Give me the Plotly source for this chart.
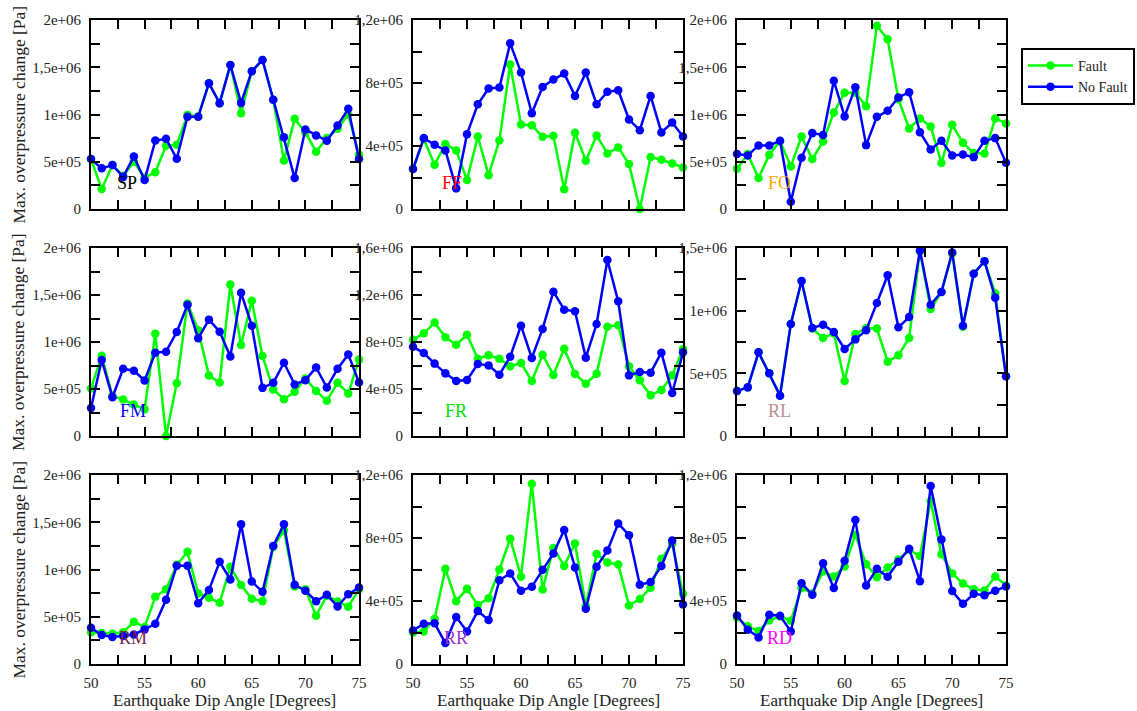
import plotly.graph_objects as go

# Earthquake dip angle (degrees)
dip = list(range(50, 76))

# Maximum overpressure change [Pa] per fault type, with and without the fault
sp_fault = [0.53e6, 0.211e6, 0.465e6, 0.35e6, 0.5e6, 0.33e6, 0.39e6, 0.67e6, 0.68e6, 0.996e6, 0.98e6, 1.33e6, 1.12e6,
            1.525e6, 1.014e6, 1.458e6, 1.577e6, 1.155e6, 0.514e6, 0.954e6, 0.81e6, 0.606e6, 0.75e6, 0.849e6, 1.0e6, 0.574e6]
sp_nofault = [0.528e6, 0.43e6, 0.465e6, 0.34e6, 0.556e6, 0.306e6, 0.725e6, 0.743e6, 0.532e6, 0.975e6, 0.975e6, 1.331e6, 1.12e6,
              1.525e6, 1.123e6, 1.458e6, 1.577e6, 1.155e6, 0.76e6, 0.327e6, 0.842e6, 0.778e6, 0.722e6, 0.884e6, 1.06e6, 0.528e6]

ff_fault = [0.2535e6, 0.444e6, 0.281e6, 0.412e6, 0.372e6, 0.184e6, 0.46e6, 0.215e6, 0.435e6, 0.917e6, 0.537e6, 0.532e6, 0.458e6,
            0.465e6, 0.125e6, 0.484e6, 0.306e6, 0.467e6, 0.353e6, 0.391e6, 0.285e6, 0.0, 0.33e6, 0.313e6, 0.289e6, 0.264e6]
ff_nofault = [0.2535e6, 0.45e6, 0.408e6, 0.372e6, 0.131e6, 0.475e6, 0.665e6, 0.765e6, 0.771e6, 1.052e6, 0.866e6, 0.608e6, 0.775e6,
              0.822e6, 0.86e6, 0.718e6, 0.866e6, 0.665e6, 0.744e6, 0.754e6, 0.568e6, 0.5e6, 0.718e6, 0.486e6, 0.549e6, 0.46e6]

fo_fault = [0.426e6, 0.581e6, 0.327e6, 0.574e6, 0.718e6, 0.451e6, 0.768e6, 0.528e6, 0.715e6, 1.021e6, 1.229e6, 1.229e6, 1.088e6,
            1.94e6, 1.796e6, 1.162e6, 0.852e6, 0.958e6, 0.873e6, 0.486e6, 0.891e6, 0.7e6, 0.592e6, 0.588e6, 0.958e6, 0.905e6]
fo_nofault = [0.581e6, 0.567e6, 0.673e6, 0.673e6, 0.722e6, 0.077e6, 0.542e6, 0.803e6, 0.782e6, 1.356e6, 0.979e6, 1.289e6, 0.676e6,
              0.975e6, 1.039e6, 1.18e6, 1.236e6, 0.813e6, 0.63e6, 0.722e6, 0.567e6, 0.577e6, 0.549e6, 0.722e6, 0.75e6, 0.489e6]

fm_fault = [0.505e6, 0.854e6, 0.427e6, 0.388e6, 0.335e6, 0.285e6, 1.089e6, 0.0, 0.562e6, 1.409e6, 1.125e6, 0.644e6, 0.569e6,
            1.612e6, 0.968e6, 1.438e6, 0.851e6, 0.495e6, 0.391e6, 0.47e6, 0.612e6, 0.48e6, 0.374e6, 0.566e6, 0.452e6, 0.815e6]
fm_nofault = [0.299e6, 0.808e6, 0.413e6, 0.715e6, 0.694e6, 0.591e6, 0.886e6, 0.897e6, 1.107e6, 1.395e6, 1.039e6, 1.238e6, 1.11e6,
              0.847e6, 1.523e6, 1.174e6, 0.512e6, 0.566e6, 0.779e6, 0.548e6, 0.594e6, 0.73e6, 0.516e6, 0.715e6, 0.868e6, 0.569e6]

fr_fault = [0.82e6, 0.874e6, 0.965e6, 0.84e6, 0.777e6, 0.862e6, 0.658e6, 0.687e6, 0.658e6, 0.593e6, 0.621e6, 0.468e6, 0.692e6,
            0.519e6, 0.743e6, 0.528e6, 0.445e6, 0.53e6, 0.93e6, 0.942e6, 0.593e6, 0.474e6, 0.346e6, 0.391e6, 0.516e6, 0.74e6]
fr_nofault = [0.76e6, 0.706e6, 0.616e6, 0.533e6, 0.468e6, 0.477e6, 0.613e6, 0.601e6, 0.522e6, 0.675e6, 0.939e6, 0.664e6, 0.911e6,
              1.228e6, 1.075e6, 1.061e6, 0.667e6, 0.953e6, 1.498e6, 1.146e6, 0.516e6, 0.545e6, 0.539e6, 0.709e6, 0.366e6, 0.712e6]

rl_fault = [0.359e6, 0.388e6, 0.668e6, 0.5e6, 0.322e6, 0.894e6, 1.237e6, 0.857e6, 0.782e6, 0.819e6, 0.439e6, 0.814e6, 0.862e6,
            0.857e6, 0.593e6, 0.644e6, 0.782e6, 1.473e6, 1.013e6, 1.149e6, 1.457e6, 0.872e6, 1.295e6, 1.394e6, 1.136e6, 0.476e6]
rl_nofault = [0.359e6, 0.388e6, 0.668e6, 0.5e6, 0.322e6, 0.894e6, 1.237e6, 0.862e6, 0.888e6, 0.83e6, 0.694e6, 0.771e6, 0.843e6,
              1.061e6, 1.282e6, 0.867e6, 0.949e6, 1.481e6, 1.048e6, 1.149e6, 1.465e6, 0.88e6, 1.295e6, 1.394e6, 1.104e6, 0.476e6]

rm_fault = [0.335e6, 0.327e6, 0.32e6, 0.335e6, 0.447e6, 0.391e6, 0.711e6, 0.792e6, 1.049e6, 1.187e6, 0.746e6, 0.7e6, 0.648e6,
            1.028e6, 0.835e6, 0.69e6, 0.665e6, 1.239e6, 1.412e6, 0.82e6, 0.792e6, 0.511e6, 0.722e6, 0.662e6, 0.606e6, 0.789e6]
rm_nofault = [0.384e6, 0.306e6, 0.285e6, 0.296e6, 0.313e6, 0.366e6, 0.426e6, 0.68e6, 1.039e6, 1.039e6, 0.644e6, 0.782e6, 1.081e6,
              0.894e6, 1.479e6, 0.873e6, 0.764e6, 1.25e6, 1.479e6, 0.838e6, 0.775e6, 0.665e6, 0.732e6, 0.609e6, 0.739e6, 0.81e6]

rr_fault = [0.2e6, 0.207e6, 0.287e6, 0.604e6, 0.399e6, 0.477e6, 0.374e6, 0.418e6, 0.6e6, 0.796e6, 0.554e6, 1.145e6, 0.473e6,
            0.737e6, 0.623e6, 0.765e6, 0.37e6, 0.699e6, 0.644e6, 0.632e6, 0.372e6, 0.412e6, 0.484e6, 0.668e6, 0.763e6, 0.446e6]
rr_nofault = [0.213e6, 0.256e6, 0.258e6, 0.133e6, 0.298e6, 0.207e6, 0.336e6, 0.279e6, 0.532e6, 0.575e6, 0.465e6, 0.49e6, 0.598e6,
              0.701e6, 0.851e6, 0.613e6, 0.351e6, 0.617e6, 0.72e6, 0.892e6, 0.818e6, 0.503e6, 0.52e6, 0.623e6, 0.784e6, 0.378e6]

rd_fault = [0.296e6, 0.239e6, 0.209e6, 0.277e6, 0.302e6, 0.275e6, 0.482e6, 0.448e6, 0.587e6, 0.556e6, 0.619e6, 0.82e6, 0.634e6,
            0.551e6, 0.613e6, 0.663e6, 0.725e6, 0.685e6, 1.035e6, 0.697e6, 0.575e6, 0.511e6, 0.475e6, 0.467e6, 0.556e6, 0.499e6]
rd_nofault = [0.308e6, 0.218e6, 0.169e6, 0.313e6, 0.306e6, 0.207e6, 0.513e6, 0.439e6, 0.64e6, 0.482e6, 0.655e6, 0.915e6, 0.499e6,
              0.604e6, 0.554e6, 0.649e6, 0.731e6, 0.526e6, 1.13e6, 0.79e6, 0.463e6, 0.382e6, 0.446e6, 0.437e6, 0.465e6, 0.492e6]

# Panel names, label colours, and y-axis ticks (value, label) for each panel
panel_names = ["SP", "FF", "FO", "FM", "FR", "RL", "RM", "RR", "RD"]
panel_colors = ["#000000", "#ff0000", "#ffa500", "#0000ff", "#00e000", "#bc8f8f", "#7a1f4a", "#9932cc", "#ff00ff"]
fault_series = [sp_fault, ff_fault, fo_fault, fm_fault, fr_fault, rl_fault, rm_fault, rr_fault, rd_fault]
nofault_series = [sp_nofault, ff_nofault, fo_nofault, fm_nofault, fr_nofault, rl_nofault, rm_nofault, rr_nofault, rd_nofault]

ticks_2e6 = ([0, 2.5e5, 5e5, 7.5e5, 1e6, 1.25e6, 1.5e6, 1.75e6, 2e6],
             ["0", "", "5e+05", "", "1e+06", "", "1,5e+06", "", "2e+06"])
ticks_12e5 = ([0, 2e5, 4e5, 6e5, 8e5, 1e6, 1.2e6],
              ["0", "", "4e+05", "", "8e+05", "", "1,2e+06"])
ticks_16e5 = ([0, 2e5, 4e5, 6e5, 8e5, 1e6, 1.2e6, 1.4e6, 1.6e6],
              ["0", "", "4e+05", "", "8e+05", "", "1,2e+06", "", "1,6e+06"])
ticks_15e5 = ([0, 2.5e5, 5e5, 7.5e5, 1e6, 1.25e6, 1.5e6],
              ["0", "", "5e+05", "", "1e+06", "", "1,5e+06"])
panel_ticks = [ticks_2e6, ticks_12e5, ticks_2e6, ticks_2e6, ticks_16e5, ticks_15e5, ticks_2e6, ticks_12e5, ticks_12e5]

x_tickvals = [50, 52.5, 55, 57.5, 60, 62.5, 65, 67.5, 70, 72.5, 75]
x_ticktext = ["50", "", "55", "", "60", "", "65", "", "70", "", "75"]

W, H = 1137, 711
col_px = [(91, 359), (413, 683), (737, 1006)]
row_px = [(20, 209), (248, 436), (475, 664)]

FONT = "Liberation Serif"
GREEN = "#00ff00"
BLUE = "#0000ff"

fig = go.Figure()
annotations = []

for i in range(9):
    r, c = divmod(i, 3)
    n = i + 1
    xa = "x" if n == 1 else f"x{n}"
    ya = "y" if n == 1 else f"y{n}"
    xkey = "xaxis" if n == 1 else f"xaxis{n}"
    ykey = "yaxis" if n == 1 else f"yaxis{n}"

    fig.add_trace(go.Scatter(
        x=dip, y=fault_series[i], mode="lines+markers", name="Fault",
        line=dict(color=GREEN, width=2.5), marker=dict(color=GREEN, size=8.5),
        xaxis=xa, yaxis=ya, showlegend=(i == 0), legendgroup="fault", cliponaxis=False))
    fig.add_trace(go.Scatter(
        x=dip, y=nofault_series[i], mode="lines+markers", name="No Fault",
        line=dict(color=BLUE, width=2.5), marker=dict(color=BLUE, size=8.5),
        xaxis=xa, yaxis=ya, showlegend=(i == 0), legendgroup="nofault", cliponaxis=False))

    x0, x1 = col_px[c]
    y0, y1 = row_px[r]
    tv, tt = panel_ticks[i]
    axis_common = dict(showline=True, linecolor="black", linewidth=2, mirror="ticks",
                       ticks="inside", ticklen=9, tickwidth=2, tickcolor="black",
                       showgrid=False, zeroline=False, automargin=False,
                       tickfont=dict(family=FONT, size=15, color="#222"))
    fig.layout[xkey] = dict(
        domain=[x0 / W, x1 / W], anchor=ya, range=[50, 75],
        tickvals=x_tickvals, ticktext=x_ticktext if r == 2 else [""] * len(x_tickvals),
        ticklabelstandoff=4, **axis_common)
    fig.layout[ykey] = dict(
        domain=[1 - y1 / H, 1 - y0 / H], anchor=xa, range=[0, tv[-1]],
        tickvals=tv, ticktext=tt, ticklabelstandoff=5, **axis_common)

    label_x = {0: 0.135, 1: 0.145}.get(i, 0.158)
    annotations.append(dict(
        text=panel_names[i], xref=f"{xa} domain", yref=f"{ya} domain",
        x=label_x, y=0.135, showarrow=False, xanchor="center", yanchor="middle",
        font=dict(family=FONT, size=18, color=panel_colors[i])))

    if c == 0:
        annotations.append(dict(
            text="Max. overpressure change [Pa]", xref="paper", yref="paper",
            x=18 / W, y=1 - (y0 + y1) / 2 / H, textangle=-90, showarrow=False,
            xanchor="center", yanchor="middle",
            font=dict(family=FONT, size=17.5, color="#222")))
    if r == 2:
        annotations.append(dict(
            text="Earthquake Dip Angle [Degrees]", xref="paper", yref="paper",
            x=(x0 + x1) / 2 / W, y=1 - 700 / H, showarrow=False,
            xanchor="center", yanchor="middle",
            font=dict(family=FONT, size=17, color="#222")))

fig.update_layout(
    width=W, height=H, margin=dict(l=0, r=0, t=0, b=0, autoexpand=False),
    paper_bgcolor="white", plot_bgcolor="white",
    annotations=annotations,
    legend=dict(x=1021 / W, y=1 - 48 / H, xanchor="left", yanchor="top",
                bordercolor="black", borderwidth=2, bgcolor="white", itemwidth=45,
                font=dict(family=FONT, size=14, color="#222"), tracegroupgap=0),
)

fig.write_html("out.html")
